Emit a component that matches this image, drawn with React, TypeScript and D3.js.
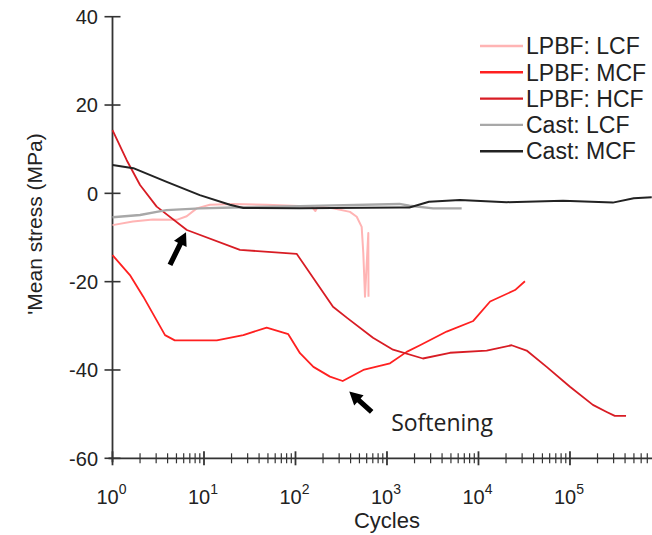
import React from "react";
import * as d3 from "d3";

type Pt = [number, number];

const lpbfLCF: Pt[] = [
  [1, -7.2], [1.67, -6.4], [2.77, -5.9], [5.03, -6.0], [6.47, -5.2], [8.32, -3.4],
  [11.6, -2.6], [20.8, -2.4], [48.4, -2.6], [150, -3.0], [165, -4.0], [175, -3.0],
  [257, -3.4], [394, -4.2], [467, -5.3], [529, -7.6], [551, -13.5], [575, -23.4],
  [625, -9.0], [628, -23.4],
];
const lpbfMCF: Pt[] = [
  [1, -14.0], [1.55, -18.5], [2.17, -23.4], [3.75, -32.1], [4.8, -33.3], [13.8, -33.3],
  [26.9, -32.1], [48.4, -30.4], [83.4, -31.9], [112, -36.2], [157, -39.3], [238, -41.5],
  [328, -42.5], [551, -40.0], [1079, -38.5], [1641, -35.9], [2296, -34.4], [4490, -31.3],
  [8770, -28.9], [13400, -24.5], [25100, -21.9], [32200, -19.9],
];
const lpbfHCF: Pt[] = [
  [1, 14.3], [1.43, 7.5], [2.0, 1.9], [3.04, -3.0], [6.5, -8.3], [24.7, -12.8],
  [103, -13.7], [257, -25.7], [366, -28.2], [703, -32.7], [1164, -35.4], [2470, -37.4],
  [4880, -36.1], [12300, -35.6], [23000, -34.4], [33600, -35.6], [55600, -39.3],
  [100000, -43.8], [178000, -47.9], [252000, -49.5], [309000, -50.4], [410000, -50.4],
];
const castLCF: Pt[] = [
  [1, -5.4], [2.0, -4.9], [3.04, -4.2], [3.9, -3.8], [9.0, -3.4], [20.8, -3.2],
  [111, -2.9], [1370, -2.4], [1760, -2.8], [3200, -3.4], [6550, -3.4],
];
const castMCF: Pt[] = [
  [1, 6.4], [1.69, 5.7], [3.91, 2.6], [9.0, -0.4], [19.2, -2.6], [26.9, -3.3],
  [111, -3.4], [1370, -3.2], [1760, -3.2], [2880, -1.9], [6260, -1.5], [20300, -2.0],
  [84000, -1.7], [294000, -2.1], [498000, -1.1], [783000, -0.9],
];

const seriesNames = ["LPBF: LCF", "LPBF: MCF", "LPBF: HCF", "Cast: LCF", "Cast: MCF"];
const seriesData = [lpbfLCF, lpbfMCF, lpbfHCF, castLCF, castMCF];
const seriesColors = ["#ffb4b4", "#ff2020", "#d81c24", "#a8a8a8", "#222222"];
const seriesWidths = [2, 1.8, 1.8, 2.4, 2];

const yTicks = [40, 20, 0, -20, -40, -60];
const xMajorExp = [0, 1, 2, 3, 4, 5];

// annotation arrows: [tail, tip] in data units
const arrows: [Pt, Pt][] = [
  [[4.25, -16.2], [6.36, -8.8]],
  [[680, -49.5], [387, -44.9]],
];
const softeningLabel = { text: "Softening", x: 1110, y: -53.8 };

export default function App() {
  const W = 652, H = 535;
  const xs = d3.scaleLog().domain([1, 8e5]).range([112.5, 652.6]);
  const ys = d3.scaleLinear().domain([-60, 40]).range([458.3, 16.7]);
  const line = d3.line<Pt>().x((d) => xs(d[0])).y((d) => ys(d[1]));

  const minor: number[] = [];
  for (const e of xMajorExp) {
    for (let m = 2; m <= 9; m++) {
      const v = m * Math.pow(10, e);
      if (v <= 8e5) minor.push(v);
    }
  }
  const x0 = xs(1);
  const yAx = ys(-60);
  const font = "Arial, 'Liberation Sans', sans-serif";

  const arrowShape = (tail: Pt, tip: Pt) => {
    const tx = xs(tail[0]), ty = ys(tail[1]);
    const hx = xs(tip[0]), hy = ys(tip[1]);
    const dx = hx - tx, dy = hy - ty;
    const len = Math.hypot(dx, dy);
    const ux = dx / len, uy = dy / len;
    const px = -uy, py = ux;
    const headL = 13, headW = 7, shaftW = 2.6;
    const bx = hx - ux * headL, by = hy - uy * headL;
    const pts = [
      [tx + px * shaftW, ty + py * shaftW],
      [bx + px * shaftW, by + py * shaftW],
      [bx + px * headW, by + py * headW],
      [hx, hy],
      [bx - px * headW, by - py * headW],
      [bx - px * shaftW, by - py * shaftW],
      [tx - px * shaftW, ty - py * shaftW],
    ];
    return pts.map((p) => p.join(",")).join(" ");
  };

  return (
    <svg width={W} height={H} style={{ position: "absolute", left: 0, top: 0, background: "#fff" }}>
      <rect width={W} height={H} fill="#fff" />
      {/* axes */}
      <line x1={x0} x2={x0} y1={ys(40)} y2={yAx + 4} stroke="#333" strokeWidth={1.8} />
      <line x1={x0 - 4} x2={W} y1={yAx} y2={yAx} stroke="#333" strokeWidth={1.8} />
      {yTicks.map((t) => (
        <g key={t}>
          <line x1={x0 - 8} x2={x0 + 8} y1={ys(t)} y2={ys(t)} stroke="#333" strokeWidth={1.6} />
          <text x={98} y={ys(t)} dy="0.36em" textAnchor="end" fontSize={20} fontFamily={font} fill="#222">
            {t}
          </text>
        </g>
      ))}
      {minor.map((v) => (
        <line key={v} x1={xs(v)} x2={xs(v)} y1={yAx - 5} y2={yAx + 5} stroke="#333" strokeWidth={1.2} />
      ))}
      {xMajorExp.map((e) => (
        <g key={e}>
          <line x1={xs(Math.pow(10, e))} x2={xs(Math.pow(10, e))} y1={yAx - 7} y2={yAx + 7} stroke="#333" strokeWidth={1.8} />
          <text x={xs(Math.pow(10, e)) - 1} y={504} textAnchor="middle" fontSize={20} fontFamily={font} fill="#222">
            10
            <tspan fontSize={14} dy={-10}>{e}</tspan>
          </text>
        </g>
      ))}
      <text x={387} y={528} textAnchor="middle" fontSize={22} fontFamily={font} fill="#222">
        Cycles
      </text>
      <text
        transform={`translate(42,224) rotate(-90)`}
        textAnchor="middle"
        fontSize={21}
        fontFamily={font}
        fill="#222"
      >
        'Mean stress (MPa)
      </text>

      {/* series */}
      {seriesData.map((d, i) => (
        <path key={i} d={line(d) || ""} fill="none" stroke={seriesColors[i]} strokeWidth={seriesWidths[i]} strokeLinejoin="round" />
      ))}

      {/* annotations */}
      {arrows.map(([a, b], i) => (
        <polygon key={i} points={arrowShape(a, b)} fill="#000" />
      ))}
      <text x={xs(softeningLabel.x)} y={ys(softeningLabel.y)} fontSize={23} fontFamily="'Open Sans', sans-serif" fill="#222">
        {softeningLabel.text}
      </text>

      {/* legend */}
      {seriesNames.map((n, i) => (
        <g key={n} transform={`translate(480,${46 + i * 26.3})`}>
          <line x1={0} x2={43} y1={0} y2={0} stroke={seriesColors[i]} strokeWidth={2.4} />
          <text x={46} y={0} dy="0.36em" fontSize={23} fontFamily={font} fill="#222">
            {n}
          </text>
        </g>
      ))}
    </svg>
  );
}
